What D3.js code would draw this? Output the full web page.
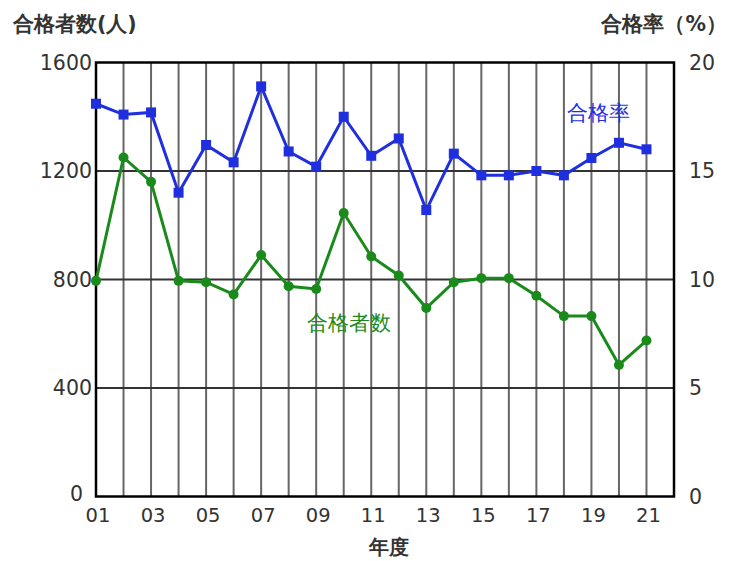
<!DOCTYPE html>
<html><head><meta charset="utf-8">
<script src="https://cdn.jsdelivr.net/npm/d3@7"></script>
<style>body{margin:0;background:#fff}svg{display:block}text{font-family:"DejaVu Sans",Verdana,sans-serif}</style>
</head><body>
<script>
const years = ["01","02","03","04","05","06","07","08","09","10","11","12","13","14","15","16","17","18","19","20","21"];
const passers = [795,1250,1160,795,790,745,890,775,765,1045,885,815,695,790,805,805,740,665,665,485,575];
const passRate = [18.1,17.6,17.7,14.0,16.2,15.4,18.9,15.9,15.2,17.5,15.7,16.5,13.2,15.8,14.8,14.8,15.0,14.8,15.6,16.3,16.0];
const leftTicks = [0,400,800,1200,1600];
const rightTicks = [0,5,10,15,20];
const xTickLabels = ["01","03","05","07","09","11","13","15","17","19","21"];

const W=729,H=561, L=96, R=674, T=62.5, B=496.5;
const svg=d3.select("body").append("svg").attr("width",W).attr("height",H);
const x=d3.scaleLinear().domain([0,21]).range([L,R]);
const yL=d3.scaleLinear().domain([0,1600]).range([B,T]);
const yR=d3.scaleLinear().domain([0,20]).range([B,T]);

// vertical grid
svg.append("g").selectAll("line").data(d3.range(1,21)).join("line")
 .attr("x1",d=>x(d)).attr("x2",d=>x(d)).attr("y1",T).attr("y2",B)
 .attr("stroke","#666").attr("stroke-width",2);
// horizontal grid
svg.append("g").selectAll("line").data(leftTicks.slice(1,-1)).join("line")
 .attr("x1",L).attr("x2",R).attr("y1",d=>yL(d)).attr("y2",d=>yL(d))
 .attr("stroke","#333").attr("stroke-width",2);
// frame
svg.append("rect").attr("x",L).attr("y",T).attr("width",R-L).attr("height",B-T)
 .attr("fill","none").attr("stroke","#000").attr("stroke-width",2.5);

// left ticks
svg.append("g").selectAll("text").data(leftTicks).join("text")
 .attr("x",d=>d===0?L-13:L-4).attr("y",d=>yL(d)-(d===0?3:0)).attr("dy","0.36em").attr("text-anchor","end")
 .attr("font-size",20.5).attr("fill","#333").text(d=>d);
// right ticks
svg.append("g").selectAll("text").data(rightTicks).join("text")
 .attr("x",R+15).attr("y",d=>yR(d)).attr("dy","0.36em").attr("text-anchor","start")
 .attr("font-size",20.5).attr("fill","#333").text(d=>d);
// x ticks
svg.append("g").selectAll("text").data(xTickLabels).join("text")
 .attr("x",d=>x(years.indexOf(d))+2).attr("y",B+25).attr("text-anchor","middle")
 .attr("font-size",19.5).attr("fill","#333").text(d=>d);

// titles
svg.append("text").attr("x",13).attr("y",31).attr("font-size",20.5).attr("font-weight","bold").attr("fill","#333")
 .attr("font-family","Noto Sans CJK JP").text("合格者数(人)");
svg.append("text").attr("x",727).attr("y",31).attr("text-anchor","end").attr("font-size",20.5).attr("font-weight","bold").attr("fill","#333")
 .attr("font-family","Noto Sans CJK JP").text("合格率（%）");
svg.append("text").attr("x",389).attr("y",554).attr("text-anchor","middle").attr("font-size",20).attr("font-weight","bold").attr("fill","#333")
 .attr("font-family","Noto Sans CJK JP").text("年度");

const blue="#1f2fe0", green="#1a8a1a";
// pass rate line
svg.append("path").datum(passRate).attr("fill","none").attr("stroke",blue).attr("stroke-width",3)
 .attr("d",d3.line().x((d,i)=>x(i)).y(d=>yR(d)));
svg.append("g").selectAll("rect").data(passRate).join("rect")
 .attr("x",(d,i)=>x(i)-5).attr("y",d=>yR(d)-5).attr("width",10).attr("height",10).attr("fill",blue);
// passers line
svg.append("path").datum(passers).attr("fill","none").attr("stroke",green).attr("stroke-width",3)
 .attr("d",d3.line().x((d,i)=>x(i)).y(d=>yL(d)));
svg.append("g").selectAll("circle").data(passers).join("circle")
 .attr("cx",(d,i)=>x(i)).attr("cy",d=>yL(d)).attr("r",5).attr("fill",green);

svg.append("text").attr("x",598).attr("y",120).attr("text-anchor","middle").attr("font-size",21).attr("fill",blue)
 .attr("font-family","Noto Sans CJK JP").text("合格率");
svg.append("text").attr("x",349).attr("y",330).attr("text-anchor","middle").attr("font-size",21).attr("fill",green)
 .attr("font-family","Noto Sans CJK JP").text("合格者数");
</script>
</body></html>
